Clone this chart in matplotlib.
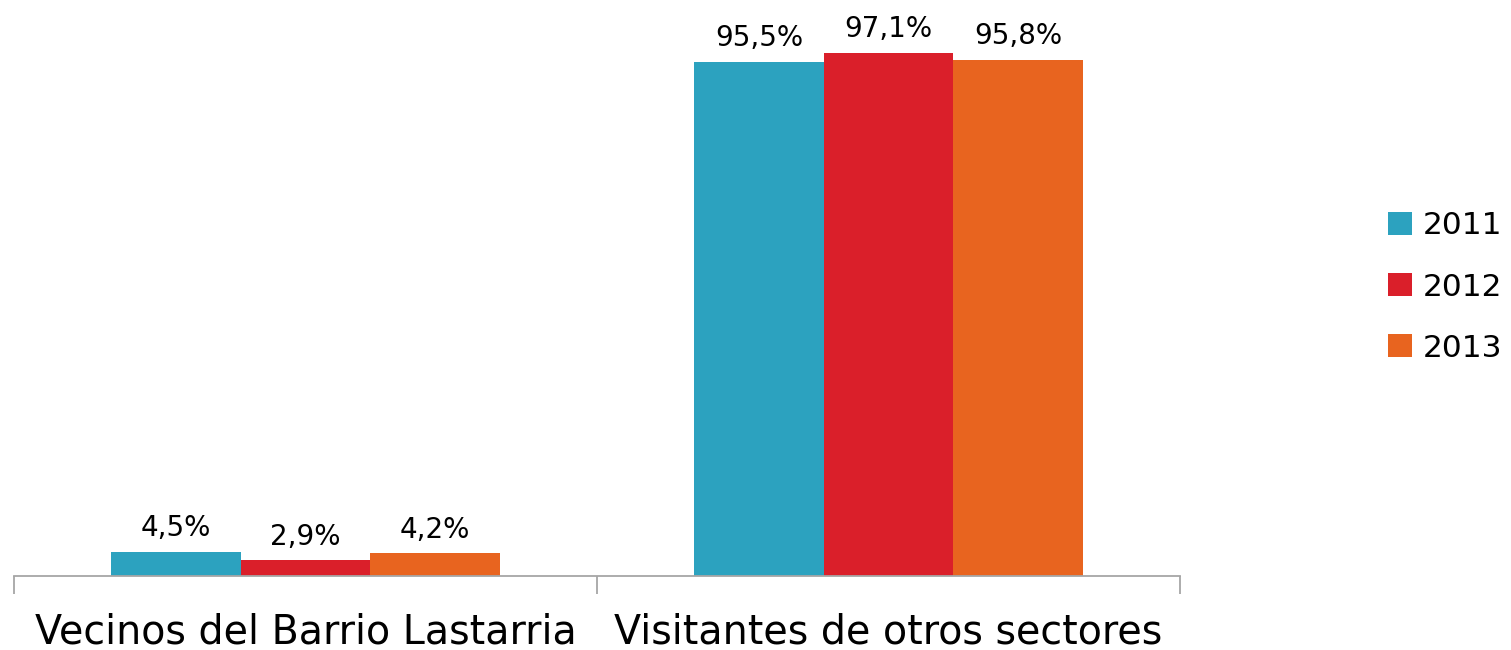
import numpy as np
import matplotlib.pyplot as plt
from matplotlib.patches import Patch

categories = ['Vecinos del Barrio Lastarria', 'Visitantes de otros sectores']
years = ['2011', '2012', '2013']
v2011 = [4.5, 95.5]
v2012 = [2.9, 97.1]
v2013 = [4.2, 95.8]
colors = ['#2CA2BF', '#DA1F2A', '#E8641F']

plt.rcParams['font.family'] = ['DejaVu Sans']

fig = plt.figure(figsize=(15.11, 6.5), dpi=100)
# axes placed by pixel: x 14..1180, baseline at y=576, top at y ~37
ax = fig.add_axes([14/1511, (650-576)/650, (1180-14)/1511, (576-37.4)/650])

x = np.arange(len(categories))
w = 0.2222
for i, (vals, c) in enumerate(zip([v2011, v2012, v2013], colors)):
    pos = x + (i - 1)*w
    ax.bar(pos, vals, w, color=c, edgecolor='none', label=years[i])
    for p, v in zip(pos, vals):
        ax.text(p, v + 1.8, ('%.1f%%' % v).replace('.', ','), ha='center', va='bottom',
                fontsize=20, color='black')

ax.set_xlim(-0.5, 1.5)
ax.set_ylim(0, 100)
for s in ['top', 'right', 'left']:
    ax.spines[s].set_visible(False)
ax.spines['bottom'].set_color('#A6A6A6')
ax.spines['bottom'].set_linewidth(1.3)
ax.set_yticks([])
ax.set_xticks([-0.5, 0.5, 1.5])
ax.set_xticklabels([])
ax.set_xticks(x, minor=True)
ax.set_xticklabels(categories, minor=True, fontsize=28.5)
ax.tick_params(axis='x', which='major', length=13, color='#A6A6A6', width=1.3)
ax.tick_params(axis='x', which='minor', length=0, pad=26)

handles = [Patch(facecolor=c, edgecolor='none') for c in colors]
fig.legend(handles, years, loc='center left', bbox_to_anchor=(1360/1511, 1-287/650),
           frameon=False, fontsize=22.5, handlelength=0.75, handleheight=0.75,
           handletextpad=0.35, labelspacing=1.03)

fig.savefig('out.png', dpi=100)
